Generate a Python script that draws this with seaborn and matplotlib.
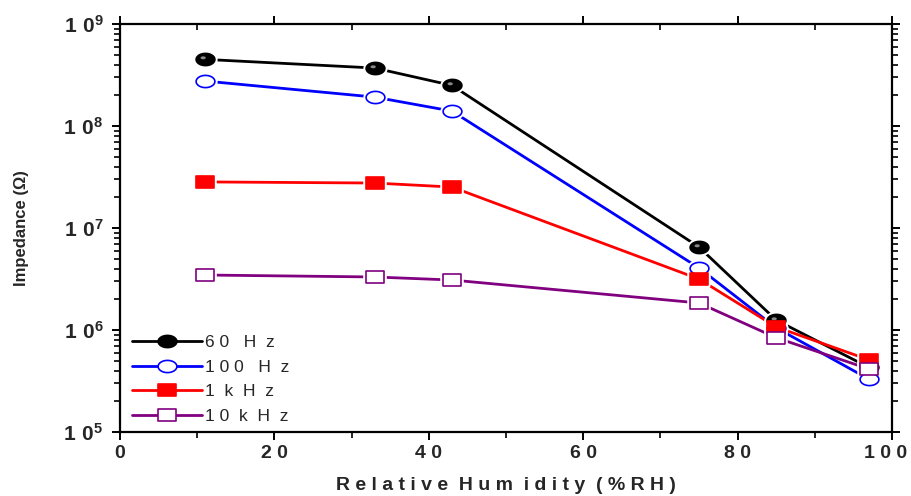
import numpy as np
import pandas as pd
import matplotlib
matplotlib.use("Agg")
import matplotlib.pyplot as plt
import matplotlib.transforms as mtransforms
from matplotlib.path import Path
from matplotlib.ticker import FixedLocator, FixedFormatter, LogLocator, NullFormatter
import seaborn as sns

# --- data ---
humidity = [11, 33, 43, 75, 85, 97]
z_60hz = [4.5e8, 3.7e8, 2.5e8, 6.5e6, 1.25e6, 4.3e5]
z_100hz = [2.76e8, 1.92e8, 1.4e8, 4.06e6, 1.05e6, 3.3e5]
z_1khz = [2.83e7, 2.76e7, 2.52e7, 3.16e6, 1.07e6, 5.1e5]
z_10khz = [3.46e6, 3.31e6, 3.09e6, 1.84e6, 8.4e5, 4.15e5]

series_names = ["6 0   H  z", "1 0 0   H  z", "1  k  H  z", "1 0  k  H  z"]
series_values = [z_60hz, z_100hz, z_1khz, z_10khz]

x_ticks = [0, 20, 40, 60, 80, 100]
x_tick_labels = ["0", "2 0", "4 0", "6 0", "8 0", "1 0 0"]
y_ticks = [1e5, 1e6, 1e7, 1e8, 1e9]
y_tick_labels = [r"$\mathbf{1\ 0^{%d}}$" % e for e in [5, 6, 7, 8, 9]]

df = pd.DataFrame({
    "rh": humidity * 4,
    "z": sum(series_values, []),
    "freq": np.repeat(series_names, len(humidity)),
})

sns.set_theme(style="white")
plt.rcParams["font.family"] = ["Liberation Sans", "DejaVu Sans"]
plt.rcParams["mathtext.fontset"] = "custom"
plt.rcParams["mathtext.rm"] = "Liberation Sans"
plt.rcParams["mathtext.bf"] = "Liberation Sans:bold"


def ellipse_path(sx, sy, cx=0.0, cy=0.0, n=60):
    t = np.linspace(0, 2 * np.pi, n)
    verts = np.column_stack([cx + sx * np.cos(t), cy + sy * np.sin(t)])
    return Path(verts, closed=True)


def rect_path(sx, sy):
    verts = [(-sx, -sy), (sx, -sy), (sx, sy), (-sx, sy), (-sx, -sy)]
    return Path(verts, closed=True)


ell = ellipse_path(1.0, 0.65)
rect = rect_path(1.0, 0.62)
# highlight spot for the shaded black spheres
hl_path = ellipse_path(0.28, 0.16, -0.25, 0.18)
hl_extent = np.max(np.abs(hl_path.vertices))

styles = [
    dict(color="black", marker=ell, mfc="black", mec="black"),
    dict(color="#0000ff", marker=ell, mfc="white", mec="#0000ff"),
    dict(color="#ff0000", marker=rect, mfc="#ff0000", mec="#ff0000"),
    dict(color="#800080", marker=rect, mfc="white", mec="#800080"),
]
msize = 13.5

fig = plt.figure(figsize=(9.11, 4.96), dpi=100)
ax = fig.add_axes([120 / 911, 1 - 432 / 496, 772 / 911, 408 / 496])

for name, st in zip(series_names, styles):
    sub = df[df["freq"] == name]
    sns.lineplot(data=sub, x="rh", y="z", ax=ax, color=st["color"], lw=2,
                 zorder=2, legend=False, estimator=None, sort=False)

for name, st in zip(series_names, styles):
    sub = df[df["freq"] == name]
    ax.plot(sub["rh"], sub["z"], ls="none", marker=st["marker"], ms=msize,
            mfc="white", mec="white", mew=4, zorder=3)

for i, (name, st) in enumerate(zip(series_names, styles)):
    sub = df[df["freq"] == name]
    ax.plot(sub["rh"], sub["z"], ls="none", marker=st["marker"], ms=msize,
            mfc=st["mfc"], mec=st["mec"], mew=1.2, zorder=4 + i)
    if i == 0:
        ax.plot(sub["rh"], sub["z"], ls="none", marker=hl_path, ms=msize * hl_extent,
                mfc="#8a8a8a", mec="none", zorder=4.5)

ax.set_yscale("log")
ax.set_xlim(0, 100)
ax.set_ylim(1e5, 1e9)

ax.xaxis.set_major_locator(FixedLocator(x_ticks))
ax.xaxis.set_major_formatter(FixedFormatter(x_tick_labels))
ax.xaxis.set_minor_locator(FixedLocator([10, 30, 50, 70, 90]))
ax.yaxis.set_major_locator(FixedLocator(y_ticks))
ax.yaxis.set_major_formatter(FixedFormatter(y_tick_labels))
ax.yaxis.set_minor_locator(LogLocator(base=10, subs=np.arange(2, 10)))
ax.yaxis.set_minor_formatter(NullFormatter())

for sp in ax.spines.values():
    sp.set_visible(True)
    sp.set_linewidth(1.6)
    sp.set_color("black")

ax.tick_params(axis="both", which="major", direction="out", length=6, width=1.4,
               color="black", bottom=True, left=True)
ax.tick_params(axis="both", which="minor", direction="out", length=4, width=1.2,
               color="black", bottom=True, left=True)
ax.tick_params(axis="x", which="both", top=True)
ax.tick_params(axis="y", which="both", right=True)
ax.xaxis.set_tick_params(which="both", labeltop=False)
ax.yaxis.set_tick_params(which="both", labelright=False)
# top and right ticks point inward
for t in ax.xaxis.get_ticklines(minor=False)[1::2] + ax.xaxis.get_ticklines(minor=True)[1::2]:
    t.set_marker(3)
for t in ax.yaxis.get_ticklines(minor=False)[1::2] + ax.yaxis.get_ticklines(minor=True)[1::2]:
    t.set_marker(1)
ax.tick_params(axis="x", which="major", labelsize=14, pad=3)
ax.tick_params(axis="y", which="major", labelsize=15, pad=6)
for lbl in ax.get_xticklabels():
    lbl.set_fontweight("bold")
# the "100" label sits a little left of its tick, as in the reference
last = ax.get_xticklabels()[-1]
last.set_transform(last.get_transform() +
                   mtransforms.ScaledTranslation(-6 / 100, 0, fig.dpi_scale_trans))

ax.set_xlabel("R e l a t i v e  H u m  i d i t y  ( % R H )", fontsize=14,
              fontweight="bold", labelpad=11)
ax.set_ylabel("Impedance (\u03a9)", fontsize=12, fontweight="bold", labelpad=25)

handles = []
for name, st in zip(series_names, styles):
    h, = ax.plot([], [], color=st["color"], lw=2, marker=st["marker"], ms=msize,
                 mfc=st["mfc"], mec=st["mec"], mew=1.2, label=name)
    handles.append(h)
leg = ax.legend(handles=handles, loc="upper left", bbox_to_anchor=(0.0, 0.268),
                frameon=False, fontsize=12.5, handlelength=4.0, handletextpad=0.2,
                labelspacing=0.55, numpoints=1, borderaxespad=0.3)

fig.savefig("out.png", dpi=100)
